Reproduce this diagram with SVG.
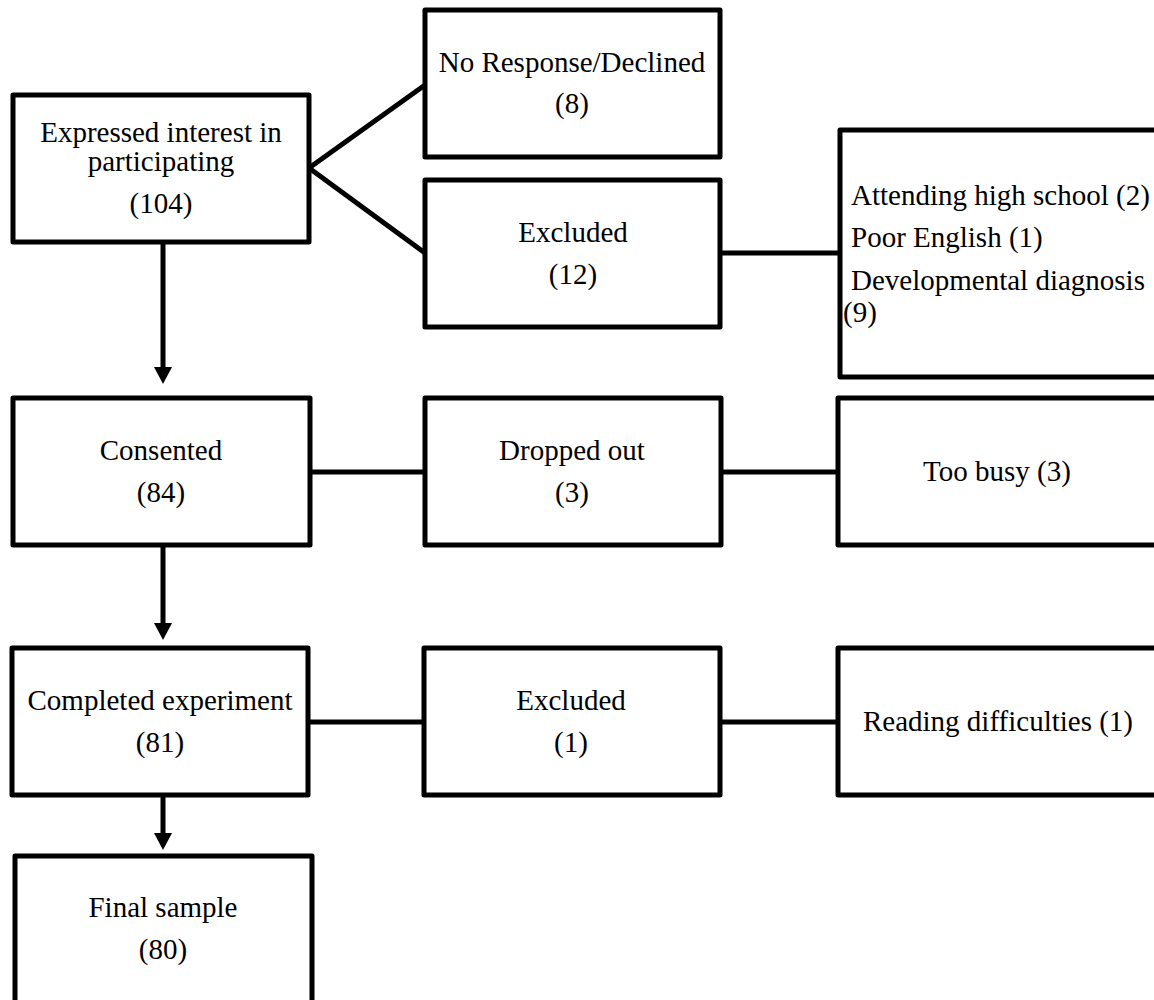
<svg xmlns="http://www.w3.org/2000/svg" width="1154" height="1000" viewBox="0 0 1154 1000">
<defs>
<style>
.box{fill:#fff;stroke:#000;stroke-width:5;stroke-linejoin:round}
.ln{fill:none;stroke:#000;stroke-width:5}
.t{font-family:"Liberation Serif","Times New Roman",serif;font-size:29px;fill:#000;text-anchor:middle}
.l{text-anchor:start}
</style>
<marker id="arr" markerUnits="userSpaceOnUse" markerWidth="17" markerHeight="18" refX="0" refY="9" orient="auto" viewBox="0 0 17 18">
<polygon points="0,0 17,9 0,18" fill="#000"/>
</marker>
</defs>
<rect width="1154" height="1000" fill="#fff"/>
<g id="connectors">
<line class="ln" x1="309" y1="168" x2="425" y2="85"/>
<line class="ln" x1="309" y1="168" x2="425" y2="253"/>
<line class="ln" x1="720" y1="253" x2="840" y2="253"/>
<line class="ln" x1="310" y1="472" x2="425" y2="472"/>
<line class="ln" x1="721" y1="472" x2="838" y2="472"/>
<line class="ln" x1="308" y1="722" x2="424" y2="722"/>
<line class="ln" x1="720" y1="722" x2="838" y2="722"/>
<line class="ln" x1="163" y1="244" x2="163" y2="367" marker-end="url(#arr)"/>
<line class="ln" x1="163" y1="545" x2="163" y2="623" marker-end="url(#arr)"/>
<line class="ln" x1="163" y1="795" x2="163" y2="833" marker-end="url(#arr)"/>
</g>
<g id="expressed">
<rect class="box" x="13" y="95" width="296" height="147"/>
<text class="t" x="161" y="142">Expressed interest in</text>
<text class="t" x="161" y="171">participating</text>
<text class="t" x="161" y="213">(104)</text>
</g>
<g id="noresponse">
<rect class="box" x="425" y="10" width="295" height="147"/>
<text class="t" x="572" y="72">No Response/Declined</text>
<text class="t" x="572" y="113">(8)</text>
</g>
<g id="excluded12">
<rect class="box" x="425" y="180" width="295" height="147"/>
<text class="t" x="573" y="242">Excluded</text>
<text class="t" x="573" y="284">(12)</text>
</g>
<g id="reasons">
<rect class="box" x="840" y="130" width="330" height="247"/>
<text class="t l" x="851" y="205">Attending high school (2)</text>
<text class="t l" x="851" y="247">Poor English (1)</text>
<text class="t l" x="851" y="290">Developmental diagnosis</text>
<text class="t l" x="843" y="322">(9)</text>
</g>
<g id="consented">
<rect class="box" x="13" y="398" width="297" height="147"/>
<text class="t" x="161" y="460">Consented</text>
<text class="t" x="161" y="502">(84)</text>
</g>
<g id="dropped">
<rect class="box" x="425" y="398" width="296" height="147"/>
<text class="t" x="572" y="460">Dropped out</text>
<text class="t" x="572" y="502">(3)</text>
</g>
<g id="busy">
<rect class="box" x="838" y="398" width="330" height="147"/>
<text class="t" x="997" y="481">Too busy (3)</text>
</g>
<g id="completed">
<rect class="box" x="12" y="648" width="296" height="147"/>
<text class="t" x="160" y="710">Completed experiment</text>
<text class="t" x="160" y="752">(81)</text>
</g>
<g id="excluded1">
<rect class="box" x="424" y="648" width="296" height="147"/>
<text class="t" x="571" y="710">Excluded</text>
<text class="t" x="571" y="752">(1)</text>
</g>
<g id="reading">
<rect class="box" x="838" y="648" width="330" height="147"/>
<text class="t" x="998" y="731">Reading difficulties (1)</text>
</g>
<g id="final">
<rect class="box" x="15" y="856" width="297" height="200"/>
<text class="t" x="163" y="917">Final sample</text>
<text class="t" x="163" y="959">(80)</text>
</g>
</svg>
